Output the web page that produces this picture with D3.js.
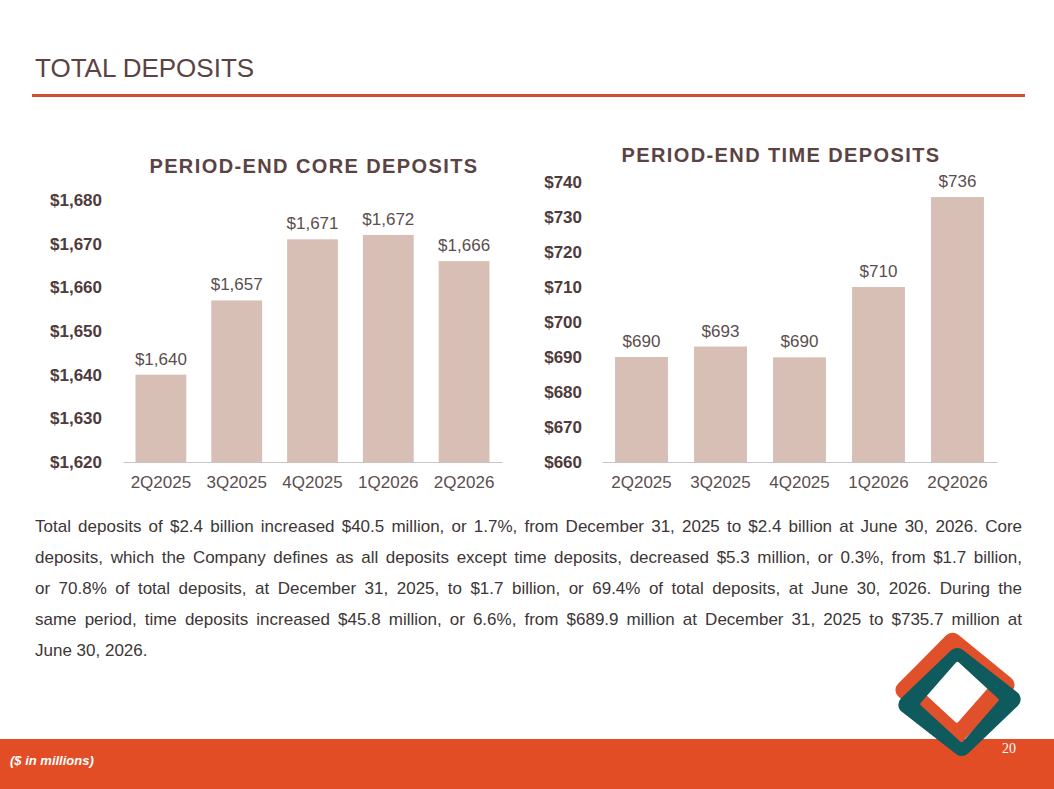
<!DOCTYPE html>
<html>
<head>
<meta charset="utf-8">
<script src="https://cdn.jsdelivr.net/npm/d3@7"></script>
<style>
    body { margin: 0; background: #fff; font-family: Arial, "Liberation Sans", sans-serif; }
    #page { position: relative; width: 1054px; height: 789px; overflow: hidden; }
    #page svg { position: absolute; left: 0; top: 0; }
    #note { position: absolute; left: 35px; top: 511px; width: 987px; font-size: 17px; line-height: 31px; color: #3d3636; }
    #note div { text-align: justify; text-align-last: justify; }
    #note div:last-child { text-align-last: left; }
</style>
</head>
<body>
<div id="page">
    <svg id="slide" width="1054" height="789"></svg>
    <div id="note"></div>
</div>
<script>
const quarters = ['2Q2025', '3Q2025', '4Q2025', '1Q2026', '2Q2026'];
const coreDeposits = [1640, 1657, 1671, 1672, 1666];
const timeDeposits = [690, 693, 689.9, 710, 735.7];
const coreTicks = [1620, 1630, 1640, 1650, 1660, 1670, 1680];
const timeTicks = [660, 670, 680, 690, 700, 710, 720, 730, 740];

const noteLines = [
    'Total deposits of $2.4 billion increased $40.5 million, or 1.7%, from December 31, 2025 to $2.4 billion at June 30, 2026. Core',
    'deposits, which the Company defines as all deposits except time deposits, decreased $5.3 million, or 0.3%, from $1.7 billion,',
    'or 70.8% of total deposits, at December 31, 2025, to $1.7 billion, or 69.4% of total deposits, at June 30, 2026. During the',
    'same period, time deposits increased $45.8 million, or 6.6%, from $689.9 million at December 31, 2025 to $735.7 million at',
    'June 30, 2026.'
];

const barColor = '#d7bfb6';
const titleColor = '#5b4343';
const labelColor = '#5a4e4e';
const orange = '#e24d26';
const teal = '#0e5a5d';

const svg = d3.select('#slide');

// header
svg.append('text')
    .attr('x', 35).attr('y', 77)
    .attr('font-size', 26)
    .attr('fill', titleColor)
    .text('TOTAL DEPOSITS');

const defs = svg.append('defs');
defs.append('filter').attr('id', 'soft')
    .append('feGaussianBlur').attr('stdDeviation', 1.6);

svg.append('line')
    .attr('x1', 34).attr('x2', 1027).attr('y1', 98.5).attr('y2', 98.5)
    .attr('stroke', '#bbb').attr('stroke-width', 3)
    .attr('filter', 'url(#soft)');
svg.append('line')
    .attr('x1', 32).attr('x2', 1025).attr('y1', 95.5).attr('y2', 95.5)
    .attr('stroke', '#cc522b').attr('stroke-width', 3);

function barChart(selection, opts) {
    const xAccessor = (d) => d.quarter;
    const yAccessor = (d) => d.value;
    const data = opts.values.map((v, i) => ({ quarter: quarters[i], value: v }));

    const xScale = d3.scaleBand()
        .domain(quarters)
        .range(opts.xRange)
        .paddingInner(0.33)
        .paddingOuter(0.165);

    const yScale = d3.scaleLinear()
        .domain(d3.extent(opts.ticks))
        .range(opts.yRange);

    //titolo del grafico
    selection.append('text')
        .attr('x', opts.titleX).attr('y', opts.titleY)
        .attr('text-anchor', 'middle')
        .attr('font-size', 20).attr('font-weight', 'bold')
        .attr('letter-spacing', 1.4)
        .attr('fill', titleColor)
        .text(opts.title);

    // y axis, only the labels
    const yAxis = d3.axisLeft(yScale)
        .tickValues(opts.ticks)
        .tickSize(0)
        .tickPadding(0)
        .tickFormat(d => '$' + d3.format(',')(d));
    const yG = selection.append('g')
        .attr('transform', `translate(${opts.yLabelX},0)`)
        .call(yAxis);
    yG.select('.domain').remove();
    yG.selectAll('text')
        .attr('font-family', 'Arial, "Liberation Sans", sans-serif')
        .attr('font-size', 17).attr('font-weight', 'bold')
        .attr('fill', '#4f3b3b');

    // bars
    selection.append('g').selectAll('rect')
        .data(data)
        .join('rect')
        .attr('x', d => xScale(xAccessor(d)))
        .attr('y', d => yScale(yAccessor(d)))
        .attr('width', xScale.bandwidth())
        .attr('height', d => yScale.range()[0] - yScale(yAccessor(d)))
        .attr('fill', barColor);

    selection.append('g').selectAll('text')
        .data(data)
        .join('text')
        .attr('x', d => xScale(xAccessor(d)) + xScale.bandwidth() / 2)
        .attr('y', d => yScale(yAccessor(d)) - 10)
        .attr('text-anchor', 'middle')
        .attr('font-size', 17)
        .attr('fill', labelColor)
        .text(d => '$' + d3.format(',')(Math.round(yAccessor(d))));

    // x axis
    const xAxis = d3.axisBottom(xScale).tickSize(0).tickPadding(14);
    const xG = selection.append('g')
        .attr('transform', `translate(0,${yScale.range()[0]})`)
        .call(xAxis);
    xG.select('.domain')
        .attr('stroke', '#c9c4c4')
        .attr('stroke-width', 1);
    xG.selectAll('text')
        .attr('font-family', 'Arial, "Liberation Sans", sans-serif')
        .attr('font-size', 17)
        .attr('fill', labelColor);
}

barChart(svg.append('g'), {
    title: 'PERIOD-END CORE DEPOSITS',
    titleX: 314, titleY: 173,
    values: coreDeposits,
    ticks: coreTicks,
    xRange: [123, 502],
    yRange: [462, 200],
    yLabelX: 102
});

barChart(svg.append('g'), {
    title: 'PERIOD-END TIME DEPOSITS',
    titleX: 781, titleY: 162,
    values: timeDeposits,
    ticks: timeTicks,
    xRange: [602, 997],
    yRange: [462, 182],
    yLabelX: 582
});

// paragraph
d3.select('#note').selectAll('div')
    .data(noteLines)
    .join('div')
    .text(d => d);

// footer band
svg.append('rect')
    .attr('x', 0).attr('y', 739).attr('width', 1054).attr('height', 50)
    .attr('fill', orange);

svg.append('text')
    .attr('x', 10).attr('y', 765)
    .attr('font-size', 13).attr('font-weight', 'bold').attr('font-style', 'italic')
    .attr('fill', '#fff')
    .text('($ in millions)');

// logo: two diamond rings with rounded corners, the teal one lies on top
function diamondPath(p, a, b, r) {
    p.moveTo(-a / 2, -b / 2);
    p.arcTo(0, -b, a, 0, r);
    p.arcTo(a, 0, 0, b, r);
    p.arcTo(0, b, -a, 0, r);
    p.arcTo(-a, 0, 0, -b, r);
    p.closePath();
}
function ring(g, cx, cy, a, b, ai, bi, color) {
    const p = d3.path();
    diamondPath(p, a, b, 9);
    diamondPath(p, ai, bi, 2);
    g.append('path')
        .attr('d', p.toString())
        .attr('fill-rule', 'evenodd')
        .attr('fill', color)
        .attr('transform', `translate(${cx},${cy}) rotate(-3)`);
}
const logo = svg.append('g');
ring(logo, 955, 687.5, 64, 58, 35, 36, '#e0502a');
ring(logo, 959.5, 702, 66, 57, 40, 41, teal);

svg.append('text')
    .attr('x', 1009).attr('y', 753)
    .attr('text-anchor', 'middle')
    .attr('font-family', '"Liberation Serif", "DejaVu Serif", serif')
    .attr('font-size', 14)
    .attr('fill', '#fff')
    .text('20');
</script>
</body>
</html>
